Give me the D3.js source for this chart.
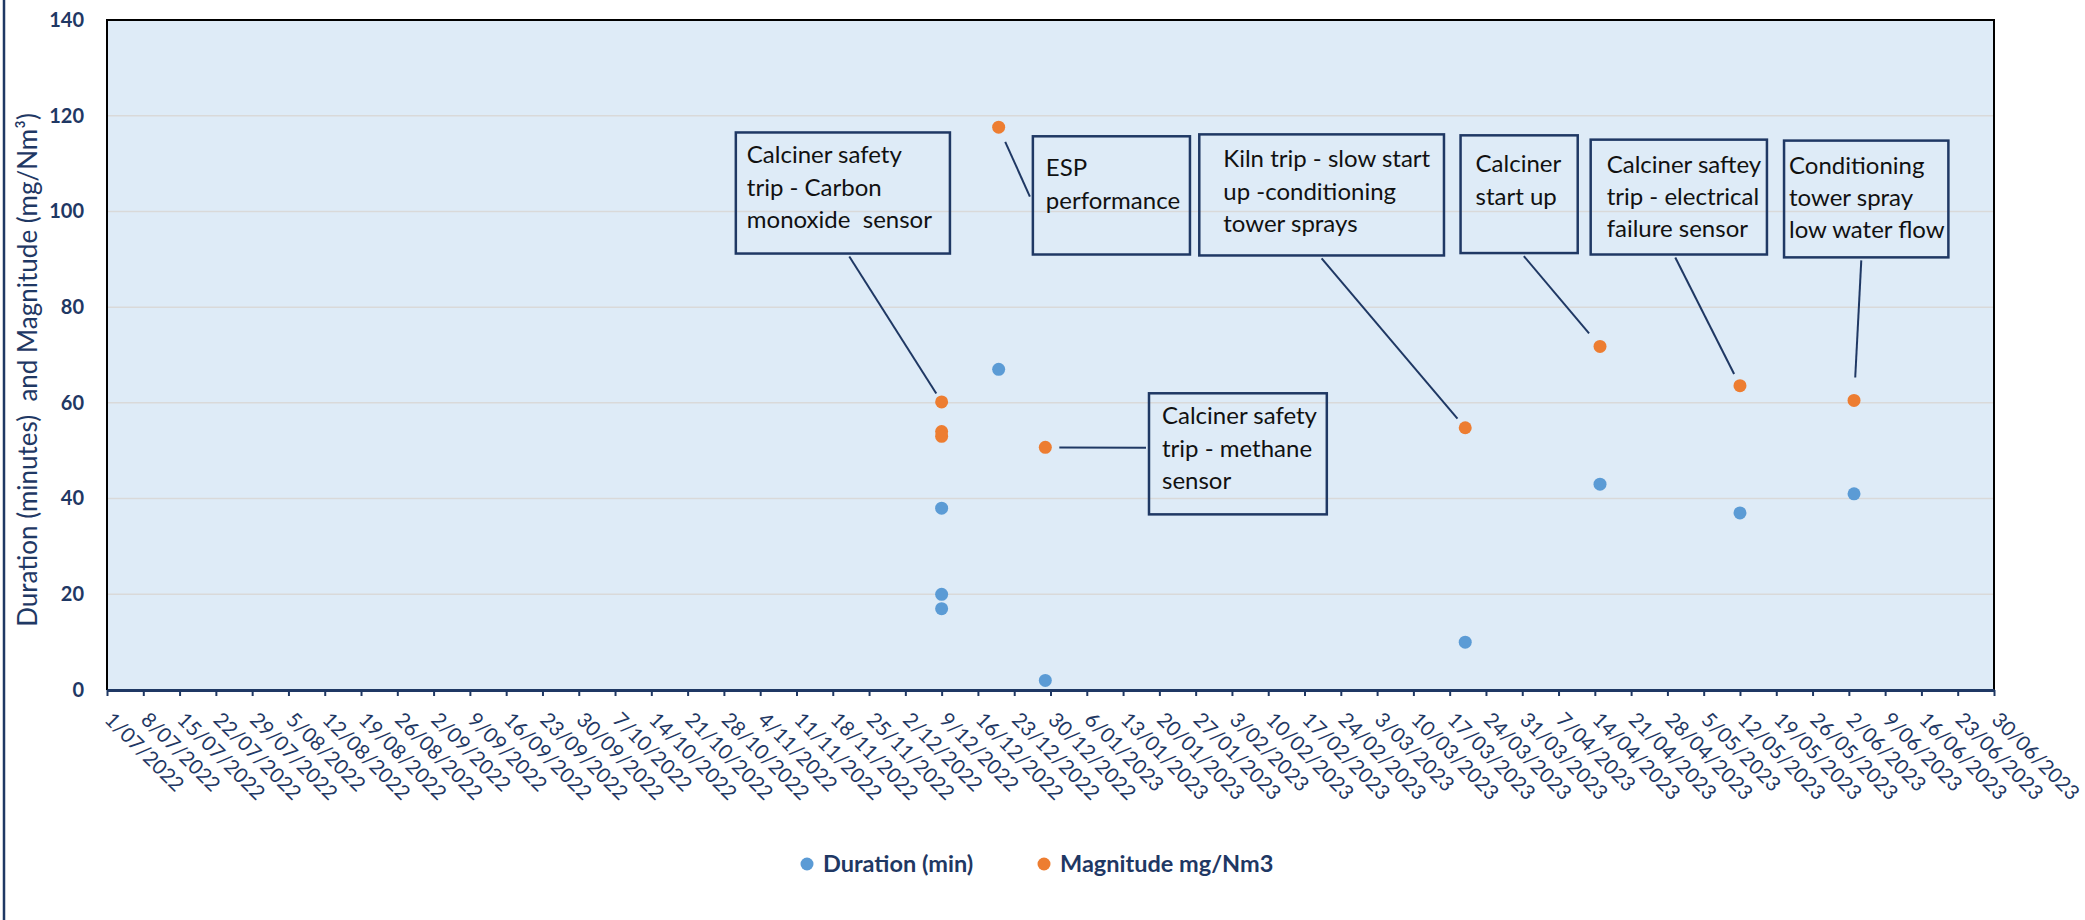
<!DOCTYPE html>
<html>
<head>
<meta charset="utf-8">
<script src="https://cdn.jsdelivr.net/npm/d3@7"></script>
<style>
  body { margin: 0; background: #fff; }
  svg { display: block; font-family: Lato, "Open Sans", sans-serif; }
</style>
</head>
<body>
<div id="chart"></div>
<script>
const width = 2085;
const height = 920;
const margin = {top: 20, right: 91, bottom: 230, left: 107};

// data
const durationDates = ["2022-12-09", "2022-12-09", "2022-12-09", "2022-12-20", "2022-12-29",
  "2023-03-20", "2023-04-15", "2023-05-12", "2023-06-03"];
const durationValues = [38, 20, 17, 67, 2, 10, 43, 37, 41];

const magnitudeDates = ["2022-12-09", "2022-12-09", "2022-12-09", "2022-12-20", "2022-12-29",
  "2023-03-20", "2023-04-15", "2023-05-12", "2023-06-03"];
const magnitudeValues = [60.2, 54, 53, 117.6, 50.7, 54.8, 71.8, 63.6, 60.5];

const xDomain = ["2022-07-01", "2023-06-30"];
const yTicks = [0, 20, 40, 60, 80, 100, 120, 140];
const seriesNames = ["Duration (min)", "Magnitude mg/Nm3"];

// callout text, pointing at a magnitude point
const notes = [
  {lines: ["Calciner safety", "trip - Carbon", "monoxide  sensor"], point: 0},
  {lines: ["ESP", "performance"], point: 3},
  {lines: ["Calciner safety", "trip - methane", "sensor"], point: 4},
  {lines: ["Kiln trip - slow start", "up -conditioning", "tower sprays"], point: 5},
  {lines: ["Calciner", "start up"], point: 6},
  {lines: ["Calciner saftey", "trip - electrical", "failure sensor"], point: 7},
  {lines: ["Conditioning", "tower spray", "low water flow"], point: 8}
];

// callout box placement, in days from the first date and in y units
const noteLayout = [
  {d0: 121.3, d1: 162.6, v0: 116.5, v1: 91.2, side: "bottom", f: 0.53, gap: 10, pad: 11, first: 31},
  {d0: 178.6, d1: 208.9, v0: 115.7, v1: 91.0, side: "left", f: 0.51, gap: 16, pad: 13, first: 40},
  {d0: 201.0, d1: 235.3, v0: 62.0, v1: 36.7, side: "left", f: 0.45, gap: 14, pad: 13, first: 31},
  {d0: 210.7, d1: 257.9, v0: 116.1, v1: 90.8, side: "bottom", f: 0.50, gap: 12, pad: 24, first: 33},
  {d0: 261.1, d1: 283.7, v0: 115.9, v1: 91.3, side: "bottom", f: 0.54, gap: 17, pad: 15, first: 37},
  {d0: 286.2, d1: 320.2, v0: 115.0, v1: 91.0, side: "bottom", f: 0.48, gap: 13, pad: 16, first: 33},
  {d0: 323.5, d1: 355.2, v0: 114.8, v1: 90.4, side: "bottom", f: 0.47, gap: 23, pad: 5, first: 33}
];

const navy = "#1F3864";
const blue = "#5B9BD5";
const orange = "#ED7D31";

const parse = d3.utcParse("%Y-%m-%d");

const svg = d3.select("#chart")
  .append("svg")
  .attr("width", width)
  .attr("height", height);

const x = d3.scaleUtc()
  .domain(xDomain.map(parse))
  .range([margin.left, width - margin.right]);

const y = d3.scaleLinear()
  .domain([0, 140])
  .range([height - margin.bottom, margin.top]);

const day0 = x.domain()[0];
const atDay = d => new Date(+day0 + d * 864e5);

// outer chart border (only left edge is visible in the crop)
svg.append("line")
  .attr("x1", 4).attr("x2", 4)
  .attr("y1", 0).attr("y2", height)
  .attr("stroke", navy)
  .attr("stroke-width", 2.5);

// plot area
svg.append("rect")
  .attr("x", x.range()[0])
  .attr("y", y(140))
  .attr("width", x.range()[1] - x.range()[0])
  .attr("height", y(0) - y(140))
  .attr("fill", "#DEEBF7");

// gridlines
svg.append("g")
  .selectAll("line")
  .data(yTicks.filter(t => t > 0 && t < 140))
  .join("line")
    .attr("x1", x.range()[0])
    .attr("x2", x.range()[1])
    .attr("y1", d => y(d))
    .attr("y2", d => y(d))
    .attr("stroke", "#D9D9D9")
    .attr("stroke-width", 1.5);

// frame: top, left, right in black
svg.append("path")
  .attr("d", `M${x.range()[0]},${y(0)}V${y(140)}H${x.range()[1]}V${y(0)}`)
  .attr("fill", "none")
  .attr("stroke", "#000")
  .attr("stroke-width", 2);

// y axis labels
const yAxis = svg.append("g")
  .attr("transform", `translate(${margin.left},0)`)
  .call(d3.axisLeft(y).tickValues(yTicks).tickSize(0).tickPadding(23));
yAxis.select(".domain").remove();
yAxis.selectAll("text")
  .style("font-family", "Lato, sans-serif")
  .style("font-size", "20px")
  .style("font-weight", "bold")
  .attr("fill", navy);

svg.append("text")
  .attr("transform", `translate(37,${370}) rotate(-90)`)
  .attr("text-anchor", "middle")
  .style("font-size", "26px")
  .style("white-space", "pre")
  .attr("fill", navy)
  .text("Duration (minutes)  and Magnitude (mg/Nm³)");

// x axis, weekly ticks on Fridays
const weekTicks = d3.utcFriday.range(x.domain()[0], d3.utcDay.offset(x.domain()[1], 1));
const xAxis = svg.append("g")
  .attr("transform", `translate(0,${y(0)})`)
  .call(d3.axisBottom(x)
    .tickValues(weekTicks)
    .tickSize(6)
    .tickSizeOuter(0)
    .tickFormat(d3.utcFormat("%-d/%m/%Y")));
xAxis.select(".domain")
  .attr("stroke", navy)
  .attr("stroke-width", 3);
xAxis.selectAll(".tick line")
  .attr("stroke", navy)
  .attr("stroke-width", 2);
xAxis.selectAll("text")
  .attr("x", 0)
  .attr("y", 0)
  .attr("dy", 0)
  .attr("transform", "translate(-4,31) rotate(45)")
  .style("text-anchor", "start")
  .style("font-family", "Lato, sans-serif")
  .style("font-size", "20.5px")
  .attr("fill", navy);

// points
const durationPts = durationDates.map((d, i) => ({date: parse(d), value: durationValues[i]}));
const magnitudePts = magnitudeDates.map((d, i) => ({date: parse(d), value: magnitudeValues[i]}));

svg.append("g")
  .selectAll("circle")
  .data(durationPts)
  .join("circle")
    .attr("cx", d => x(d.date))
    .attr("cy", d => y(d.value))
    .attr("r", 6.5)
    .attr("fill", blue);

svg.append("g")
  .selectAll("circle")
  .data(magnitudePts)
  .join("circle")
    .attr("cx", d => x(d.date))
    .attr("cy", d => y(d.value))
    .attr("r", 6.5)
    .attr("fill", orange);

// callouts
const callouts = svg.append("g");
notes.forEach((n, i) => {
  const L = noteLayout[i];
  const bx0 = x(atDay(L.d0)), bx1 = x(atDay(L.d1));
  const by0 = y(L.v0), by1 = y(L.v1);
  const px = x(magnitudePts[n.point].date);
  const py = y(magnitudePts[n.point].value);

  let sx, sy;
  if (L.side === "bottom") {
    sx = bx0 + L.f * (bx1 - bx0);
    sy = by1 + 3;
  } else {
    sx = bx0 - 3;
    sy = by0 + L.f * (by1 - by0);
  }
  const len = Math.hypot(sx - px, sy - py);
  const ex = px + (sx - px) / len * L.gap;
  const ey = py + (sy - py) / len * L.gap;

  callouts.append("line")
    .attr("x1", sx).attr("y1", sy)
    .attr("x2", ex).attr("y2", ey)
    .attr("stroke", navy)
    .attr("stroke-width", 2);

  callouts.append("rect")
    .attr("x", bx0).attr("y", by0)
    .attr("width", bx1 - bx0)
    .attr("height", by1 - by0)
    .attr("fill", "none")
    .attr("stroke", navy)
    .attr("stroke-width", 2.5);

  const t = callouts.append("text")
    .style("font-size", "24px")
    .style("white-space", "pre")
    .attr("fill", "#111");
  n.lines.forEach((line, j) => {
    t.append("tspan")
      .attr("x", bx0 + L.pad)
      .attr("y", by0 + L.first + j * 32.3)
      .text(line);
  });
});

// legend
const legend = svg.append("g")
  .attr("transform", "translate(0,864)");
const legendX = [807, 1044];
seriesNames.forEach((name, i) => {
  legend.append("circle")
    .attr("cx", legendX[i])
    .attr("cy", 0)
    .attr("r", 6.5)
    .attr("fill", i === 0 ? blue : orange);
  legend.append("text")
    .attr("x", legendX[i] + 16)
    .attr("y", 0)
    .attr("dy", "0.35em")
    .style("font-size", "23.5px")
    .style("font-weight", "bold")
    .attr("fill", navy)
    .text(name);
});
</script>
</body>
</html>
